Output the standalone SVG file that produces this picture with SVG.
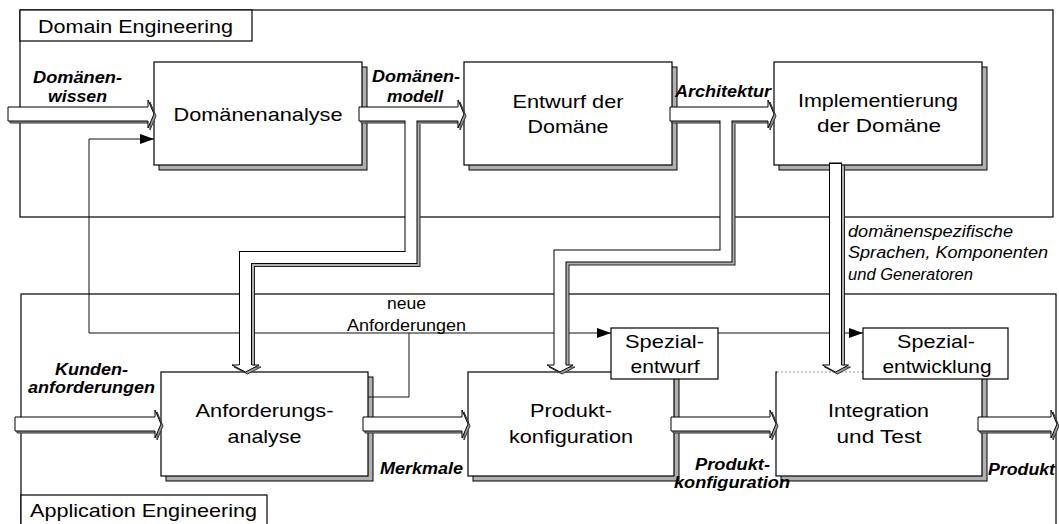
<svg xmlns="http://www.w3.org/2000/svg" width="1059" height="524" viewBox="0 0 1059 524">
<defs>
<style>
.frame{fill:none;stroke:#000;stroke-width:1.2}
.tbox{fill:#fff;stroke:#000;stroke-width:1.2}
.box{fill:#fff;stroke:#000;stroke-width:1.2}
.sh{fill:#b0b0b0;stroke:#000;stroke-width:1}
text{font-family:"Liberation Sans",Arial,sans-serif;fill:#000}
.t{font-size:19px;text-anchor:middle}
.tl{font-size:19px}
.n{font-size:16px;text-anchor:middle}
.bi{font-size:16px;font-weight:bold;font-style:italic;text-anchor:middle}
.it{font-size:16px;font-style:italic}
.fb{fill:none;stroke:#111;stroke-width:1}
.fa{fill:#fff;stroke:#000;stroke-width:1}
.fas{fill:#9a9a9a;stroke:#333;stroke-width:1}
.po{fill:none;stroke:#000;stroke-width:13;stroke-linejoin:miter}
.pi{fill:none;stroke:#fff;stroke-width:11;stroke-linejoin:miter}
.pso{fill:none;stroke:#222;stroke-width:13;stroke-linejoin:miter}
.psi{fill:none;stroke:#b0b0b0;stroke-width:11;stroke-linejoin:miter}
.hf{fill:#fff;stroke:none}
.hs{fill:none;stroke:#000;stroke-width:1}
.hsh{fill:#9a9a9a;stroke:#333;stroke-width:1}
</style>
<marker id="ah" markerUnits="userSpaceOnUse" markerWidth="15" markerHeight="10" refX="14" refY="5" orient="auto"><path d="M0,0 L14,5 L0,10 z" fill="#000"/></marker>
</defs>

<g id="domain-engineering">
<rect class="frame" x="20" y="10" width="1033" height="207"/>
<rect class="tbox" x="20" y="10" width="232" height="31"/>
<text class="tl" x="38" y="33" textLength="195" lengthAdjust="spacingAndGlyphs">Domain Engineering</text>
</g>
<g id="application-engineering">
<rect class="frame" x="21" y="294" width="1035" height="240"/>
<rect class="tbox" x="21" y="495" width="246" height="40"/>
<text class="tl" x="30" y="517" textLength="227" lengthAdjust="spacingAndGlyphs">Application Engineering</text>
</g>

<g id="domaenenanalyse">
<rect class="sh" x="159" y="67" width="208" height="103"/>
<rect class="box" x="154" y="62" width="208" height="103"/>
<text class="t" x="258" y="121" textLength="169" lengthAdjust="spacingAndGlyphs">Domänenanalyse</text>
</g>
<g id="entwurf">
<rect class="sh" x="469" y="67" width="208" height="103"/>
<rect class="box" x="464" y="62" width="208" height="103"/>
<text class="t" x="568" y="108" textLength="111" lengthAdjust="spacingAndGlyphs">Entwurf der</text>
<text class="t" x="568" y="133" textLength="81" lengthAdjust="spacingAndGlyphs">Domäne</text>
</g>
<g id="implementierung">
<rect class="sh" x="779" y="67" width="208" height="103"/>
<rect class="box" x="774" y="62" width="208" height="103"/>
<text class="t" x="878" y="107" textLength="160" lengthAdjust="spacingAndGlyphs">Implementierung</text>
<text class="t" x="879" y="132" textLength="124" lengthAdjust="spacingAndGlyphs">der Domäne</text>
</g>
<g id="anforderungsanalyse">
<rect class="sh" x="166" y="377" width="207" height="104"/>
<rect class="box" x="161" y="372" width="207" height="104"/>
<text class="t" x="264.5" y="417" textLength="138" lengthAdjust="spacingAndGlyphs">Anforderungs-</text>
<text class="t" x="264.5" y="443" textLength="74" lengthAdjust="spacingAndGlyphs">analyse</text>
</g>
<g id="produktkonfiguration">
<rect class="sh" x="473" y="377" width="206" height="104"/>
<rect class="box" x="468" y="372" width="206" height="104"/>
<text class="t" x="571" y="417" textLength="82" lengthAdjust="spacingAndGlyphs">Produkt-</text>
<text class="t" x="571" y="443" textLength="124" lengthAdjust="spacingAndGlyphs">konfiguration</text>
</g>
<g id="integration">
<rect class="sh" x="781" y="377" width="206" height="104"/>
<rect class="box" x="776" y="372" width="206" height="104"/>
<line x1="777" y1="372" x2="862" y2="372" stroke="#fff" stroke-width="2"/>
<line x1="777" y1="372" x2="862" y2="372" stroke="#999" stroke-width="1" stroke-dasharray="2,2"/>
<text class="t" x="878.5" y="417" textLength="101" lengthAdjust="spacingAndGlyphs">Integration</text>
<text class="t" x="879" y="443" textLength="85" lengthAdjust="spacingAndGlyphs">und Test</text>
</g>
<g id="spezialentwurf">
<rect class="box" x="611" y="328" width="107" height="51"/>
<text class="t" x="664.5" y="348" textLength="79" lengthAdjust="spacingAndGlyphs">Spezial-</text>
<text class="t" x="665" y="373" textLength="69" lengthAdjust="spacingAndGlyphs">entwurf</text>
</g>
<g id="spezialentwicklung">
<rect class="box" x="863" y="328" width="145" height="51"/>
<text class="t" x="936" y="348" textLength="78" lengthAdjust="spacingAndGlyphs">Spezial-</text>
<text class="t" x="937" y="373" textLength="109" lengthAdjust="spacingAndGlyphs">entwicklung</text>
</g>

<g id="connectors">
<!-- feedback: neue Anforderungen -->
<path class="fb" d="M368,397 H409 V333"/>
<path class="fb" d="M409,333 H89 V139 H154" marker-end="url(#ah)"/>
<path class="fb" d="M409,333 H611" marker-end="url(#ah)"/>
<path class="fb" d="M718,333 H863" marker-end="url(#ah)"/>

<!-- pipe shadows -->
<path class="pso" d="M414,124 V260.5 H248.5 V368"/>
<path class="psi" d="M414,124 V260.5 H248.5 V368"/>
<path class="pso" d="M729,124 V259 H563 V368"/>
<path class="psi" d="M729,124 V259 H563 V368"/>
<path class="pso" d="M838.5,166 V368"/>
<path class="psi" d="M838.5,166 V368"/>

<!-- fat horizontal arrows -->
<polygon class="fas" points="10,109 150,109 150,102 156,116 150,130 150,123 10,123"/>
<polygon class="fa" points="8,107 148,107 148,100 154,114 148,128 148,121 8,121"/>
<polygon class="fas" points="361,109 460,109 460,102 466,116 460,130 460,123 361,123"/>
<polygon class="fa" points="359,107 458,107 458,100 464,114 458,128 458,121 359,121"/>
<polygon class="fas" points="672,109 770,109 770,102 776,116 770,130 770,123 672,123"/>
<polygon class="fa" points="670,107 768,107 768,100 774,114 768,128 768,121 670,121"/>

<polygon class="fas" points="17,419 157,419 157,412 163,426 157,440 157,433 17,433"/>
<polygon class="fa" points="15,417 155,417 155,410 161,424 155,438 155,431 15,431"/>
<polygon class="fas" points="365,419 464,419 464,412 470,426 464,440 464,433 365,433"/>
<polygon class="fa" points="363,417 462,417 462,410 468,424 462,438 462,431 363,431"/>
<polygon class="fas" points="673,419 772,419 772,412 778,426 772,440 772,433 673,433"/>
<polygon class="fa" points="671,417 770,417 770,410 776,424 770,438 770,431 671,431"/>
<polygon class="fas" points="980,419 1053,419 1053,412 1059,426 1053,440 1053,433 980,433"/>
<polygon class="fa" points="978,417 1051,417 1051,410 1057,424 1051,438 1051,431 978,431"/>

<!-- pipes -->
<path class="po" d="M411,121 V257.5 H245.5 V365"/>
<path class="pi" d="M411,119 V257.5 H245.5 V366"/>
<path class="po" d="M726,121 V256 H560 V365"/>
<path class="pi" d="M726,119 V256 H560 V366"/>
<path class="po" d="M835.5,163 V365"/>
<path class="pi" d="M835.5,164 V366"/>
<line x1="829" y1="163" x2="842" y2="163" stroke="#000" stroke-width="1"/>

<!-- pipe heads -->
<polygon class="hsh" points="234,367 247.5,374 261,367"/>
<polygon class="hf" points="239,365 232,365 245.5,372 259,365 252,365"/>
<polyline class="hs" points="239,365 232,365 245.5,372 259,365 252,365"/>
<polygon class="hsh" points="549,367 562,374 575,367"/>
<polygon class="hf" points="554,365 547,365 560,372 573,365 566,365"/>
<polyline class="hs" points="554,365 547,365 560,372 573,365 566,365"/>
<polygon class="hsh" points="824.5,367 837.5,374 850.5,367"/>
<polygon class="hf" points="829.5,365 822.5,365 835.5,372 848.5,365 841.5,365"/>
<polyline class="hs" points="829.5,365 822.5,365 835.5,372 848.5,365 841.5,365"/>

<!-- connector labels -->
<text class="bi" x="77.5" y="83" textLength="89" lengthAdjust="spacingAndGlyphs">Domänen-</text>
<text class="bi" x="77.5" y="102" textLength="59" lengthAdjust="spacingAndGlyphs">wissen</text>
<text class="bi" x="416" y="82" textLength="88" lengthAdjust="spacingAndGlyphs">Domänen-</text>
<text class="bi" x="415" y="102" textLength="56" lengthAdjust="spacingAndGlyphs">modell</text>
<text class="bi" x="723" y="97" textLength="96" lengthAdjust="spacingAndGlyphs">Architektur</text>
<text class="bi" x="91.5" y="375" textLength="73" lengthAdjust="spacingAndGlyphs">Kunden-</text>
<text class="bi" x="91.5" y="393" textLength="127" lengthAdjust="spacingAndGlyphs">anforderungen</text>
<text class="bi" x="421.5" y="474" textLength="83" lengthAdjust="spacingAndGlyphs">Merkmale</text>
<text class="bi" x="732.5" y="470" textLength="75" lengthAdjust="spacingAndGlyphs">Produkt-</text>
<text class="bi" x="732" y="488" textLength="116" lengthAdjust="spacingAndGlyphs">konfiguration</text>
<text class="bi" x="1021.5" y="475" textLength="67" lengthAdjust="spacingAndGlyphs">Produkt</text>
<text class="n" x="406.5" y="309" textLength="39" lengthAdjust="spacingAndGlyphs">neue</text>
<text class="n" x="406.5" y="331" textLength="119" lengthAdjust="spacingAndGlyphs">Anforderungen</text>
<text class="it" x="848" y="237" textLength="165" lengthAdjust="spacingAndGlyphs">domänenspezifische</text>
<text class="it" x="848" y="258" textLength="200" lengthAdjust="spacingAndGlyphs">Sprachen, Komponenten</text>
<text class="it" x="848" y="280" textLength="125" lengthAdjust="spacingAndGlyphs">und Generatoren</text>
</g>
</svg>
